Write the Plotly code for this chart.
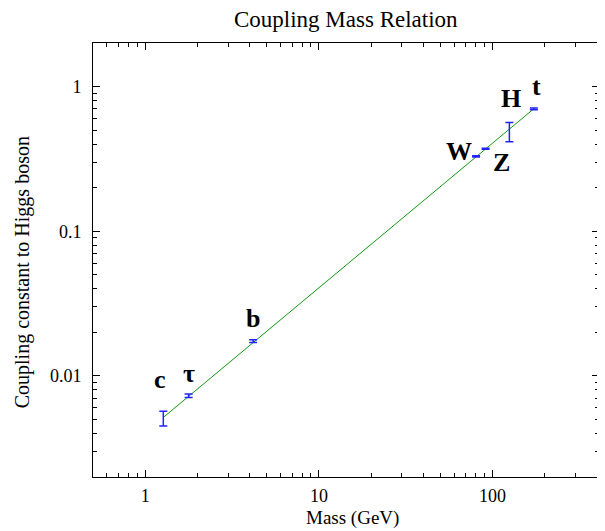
import math
import plotly.graph_objects as go

particles = ["c", "τ", "b", "W", "Z", "H", "t"]
mass = [1.27, 1.777, 4.18, 80.4, 91.19, 125.0, 173.0]
coupling = [0.0051, 0.00728, 0.0174, 0.329, 0.372, 0.49, 0.702]
coupling_err = [0.0006, 0.0002, 0.0004, 0.003, 0.003, 0.075, 0.01]

fit_mass = [1.27, 173.0]
fit_coupling = [0.00516, 0.703]

# label pixel offsets relative to data point (dx, dy)
label_offsets = [(-3, 39), (0, 22), (0, 23), (-17, 5), (16, -14), (2, 33), (3, 22)]

serif = "Liberation Serif, Times New Roman, serif"

fig = go.Figure()
fig.add_trace(go.Scatter(
    x=fit_mass, y=fit_coupling, mode="lines",
    line=dict(color="#119911", width=1), hoverinfo="skip", showlegend=False))
fig.add_trace(go.Scatter(
    x=mass, y=coupling, mode="markers",
    marker=dict(size=1, color="rgba(0,0,0,0)"),
    error_y=dict(type="data", array=coupling_err, color="#2222ff", thickness=1.5, width=4),
    showlegend=False))

for name, m, c, (dx, dy) in zip(particles, mass, coupling, label_offsets):
    fig.add_annotation(x=math.log10(m), y=math.log10(c),
                       text=f"<b>{name}</b>", showarrow=False,
                       xshift=dx, yshift=dy,
                       font=dict(family=serif, size=26, color="black"))

# titles
fig.add_annotation(text="Coupling Mass Relation", xref="paper", yref="paper",
                   x=0.5, y=1.054, xanchor="center", yanchor="middle", showarrow=False,
                   borderpad=0, font=dict(family=serif, size=23, color="black"))
fig.add_annotation(text="Mass (GeV)", xref="paper", yref="paper",
                   x=0.512, y=-0.095, xanchor="center", yanchor="middle", showarrow=False,
                   borderpad=0, font=dict(family=serif, size=19, color="black"))
fig.add_annotation(text="Coupling constant to Higgs boson", xref="paper", yref="paper",
                   x=-0.14, y=0.472, xanchor="center", yanchor="middle", showarrow=False,
                   textangle=-90, borderpad=0, font=dict(family=serif, size=20, color="black"))

axis_common = dict(
    type="log", showline=True, linecolor="black", linewidth=1, mirror="allticks",
    ticks="inside", ticklen=7, tickcolor="black", showgrid=False, zeroline=False,
    tickfont=dict(family=serif, size=18, color="black"),
    minor=dict(ticks="inside", ticklen=4, tickcolor="black", dtick="D1", showgrid=False),
)

fig.update_layout(
    width=597, height=523,
    margin=dict(l=85, r=6, t=35, b=54),
    paper_bgcolor="white", plot_bgcolor="white",
    xaxis=dict(axis_common, range=[-0.301, 2.613], dtick=1, ticklabelstandoff=2),
    yaxis=dict(axis_common, range=[-2.699, 0.301], dtick=1, ticklabelstandoff=7),
)

fig.write_html("out.html")
